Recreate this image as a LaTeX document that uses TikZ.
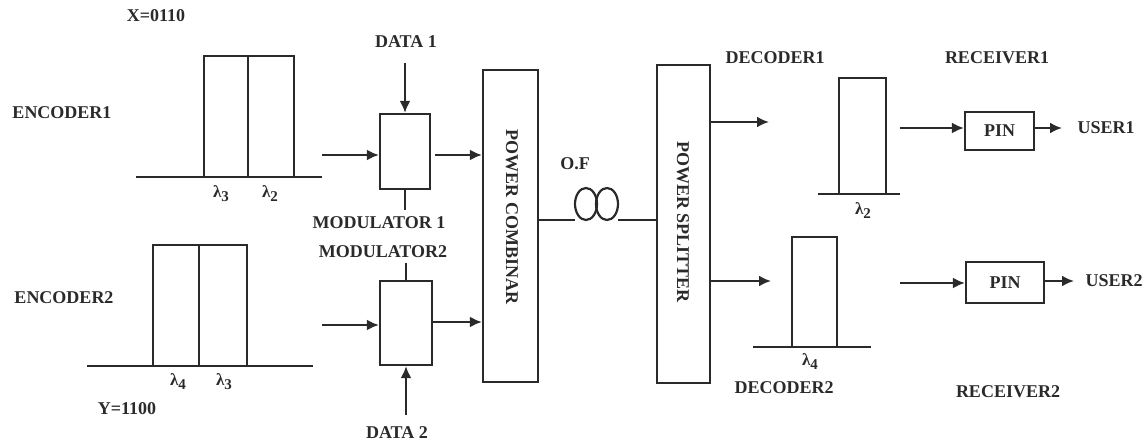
\documentclass[tikz,border=0pt]{standalone}
\usepackage{fontspec}
\setmainfont{Liberation Serif}
\usetikzlibrary{arrows.meta}
\definecolor{ink}{HTML}{2A2A2A}
\newcommand{\lamsub}[1]{λ\raisebox{-4pt}{\fontsize{15}{15}\selectfont #1}}
\begin{document}
\begin{tikzpicture}[x=1pt,y=-1pt,
  line width=2.2pt, draw=ink,
  lbl/.style={font=\bfseries\fontsize{18}{21}\selectfont, text=ink, inner sep=0pt},
  lam/.style={font=\bfseries\fontsize{17}{20}\selectfont, text=ink, inner sep=0pt},
  blk/.style={draw=ink, line width=2.2pt, rectangle, inner sep=0pt},
  arr/.style={draw=ink, -{Latex[length=12pt,width=11pt]}}]
\useasboundingbox (0,0) rectangle (1148,443);

% ---------- Encoder 1 ----------
\node[lbl] (xcode) at (156,16) {X=0110};
\node[lbl] (enc1) at (62,113) {ENCODER1};
\draw (136,177) -- (322,177);
\draw (204,177) -- (204,56) -- (294,56) -- (294,177);
\draw (248,56) -- (248,177);
\node[lam] (l13) at (221,194) {\lamsub{3}};
\node[lam] (l12) at (270,194) {\lamsub{2}};

% ---------- Encoder 2 ----------
\node[lbl] (enc2) at (64,298) {ENCODER2};
\draw (87,366) -- (313,366);
\draw (153,366) -- (153,245) -- (247,245) -- (247,366);
\draw (199,245) -- (199,366);
\node[lam] (l24) at (178,382) {\lamsub{4}};
\node[lam] (l23) at (224,382) {\lamsub{3}};
\node[lbl] (ycode) at (127,409) {Y=1100};

% ---------- Modulators ----------
\node[blk, minimum width=50pt, minimum height=75pt] (mod1) at (405,151.5) {};
\node[blk, minimum width=52pt, minimum height=84pt] (mod2) at (406,323) {};
\node[lbl] (data1) at (406,42) {DATA 1};
\node[lbl] (data2) at (397,433) {DATA 2};
\node[lbl] (m1lbl) at (379,223) {MODULATOR 1};
\node[lbl] (m2lbl) at (383,252) {MODULATOR2};

\coordinate (d1s) at (405,63);
\draw[arr] (d1s) -- (mod1.north);
\coordinate (d2s) at (406,415);
\draw[arr] (d2s) -- (mod2.south);
\coordinate (m1t) at (405,210);
\draw (mod1.south) -- (m1t);
\coordinate (m2t) at (406,263);
\draw (m2t) -- (mod2.north);

\coordinate (in1) at (322,155);
\draw[arr] (in1) -- (in1 -| mod1.west);
\coordinate (in2) at (322,325);
\draw[arr] (in2) -- (in2 -| mod2.west);

% ---------- Power combiner ----------
\node[blk, minimum width=55pt, minimum height=312pt] (comb) at (510.5,226) {};
\node[lbl, rotate=-90] (combt) at (512,217) {POWER COMBINAR};
\coordinate (o1) at (435,155);
\draw[arr] (o1) -- (o1 -| comb.west);
\coordinate (o2) at (mod2.east |- 0,322);
\draw[arr] (o2) -- (o2 -| comb.west);

% ---------- Optical fibre ----------
\node[lbl] (of) at (575,164) {O.F};
\coordinate (ofL) at (575,220);
\coordinate (ofR) at (618,220);
\draw (comb.east |- ofL) -- (ofL);
\draw (586,204) ellipse [x radius=11pt, y radius=16pt];
\draw (607,204) ellipse [x radius=11pt, y radius=16pt];

% ---------- Power splitter ----------
\node[blk, minimum width=53pt, minimum height=318pt] (split) at (683.5,224) {};
\node[lbl, rotate=-90] (splitt) at (683,222) {POWER SPLITTER};
\draw (ofR) -- (ofR -| split.west);

% ---------- Decoder 1 ----------
\node[lbl] (dec1) at (775,58) {DECODER1};
\coordinate (s1) at (split.east |- 0,122);
\coordinate (s1e) at (769,122);
\draw[arr] (s1) -- (s1e);
\draw (818,194) -- (900,194);
\draw (839,194) -- (839,78) -- (886,78) -- (886,194);
\node[lam] (d1l) at (863,211) {\lamsub{2}};

% ---------- Decoder 2 ----------
\coordinate (s2) at (split.east |- 0,281);
\coordinate (s2e) at (771,281);
\draw[arr] (s2) -- (s2e);
\draw (753,347) -- (871,347);
\draw (792,347) -- (792,237) -- (837,237) -- (837,347);
\node[lam] (d2l) at (810,362) {\lamsub{4}};
\node[lbl] (dec2) at (784,388) {DECODER2};

% ---------- Receivers ----------
\node[lbl] (rec1) at (997,58) {RECEIVER1};
\node[blk, minimum width=69pt, minimum height=38pt, lbl] (pin1) at (999.5,131) {PIN};
\coordinate (r1s) at (900,128);
\draw[arr] (r1s) -- (r1s -| pin1.west);
\node[lbl] (user1) at (1106,128) {USER1};
\draw[arr] (pin1.east |- r1s) -- (1062,128);

\node[lbl] (rec2) at (1008,392) {RECEIVER2};
\node[blk, minimum width=78pt, minimum height=41pt, lbl] (pin2) at (1005,282.5) {PIN};
\coordinate (r2s) at (900,283);
\draw[arr] (r2s) -- (r2s -| pin2.west);
\node[lbl] (user2) at (1114,281) {USER2};
\draw[arr] (pin2.east |- 0,281) -- (1074,281);
\end{tikzpicture}
\end{document}
